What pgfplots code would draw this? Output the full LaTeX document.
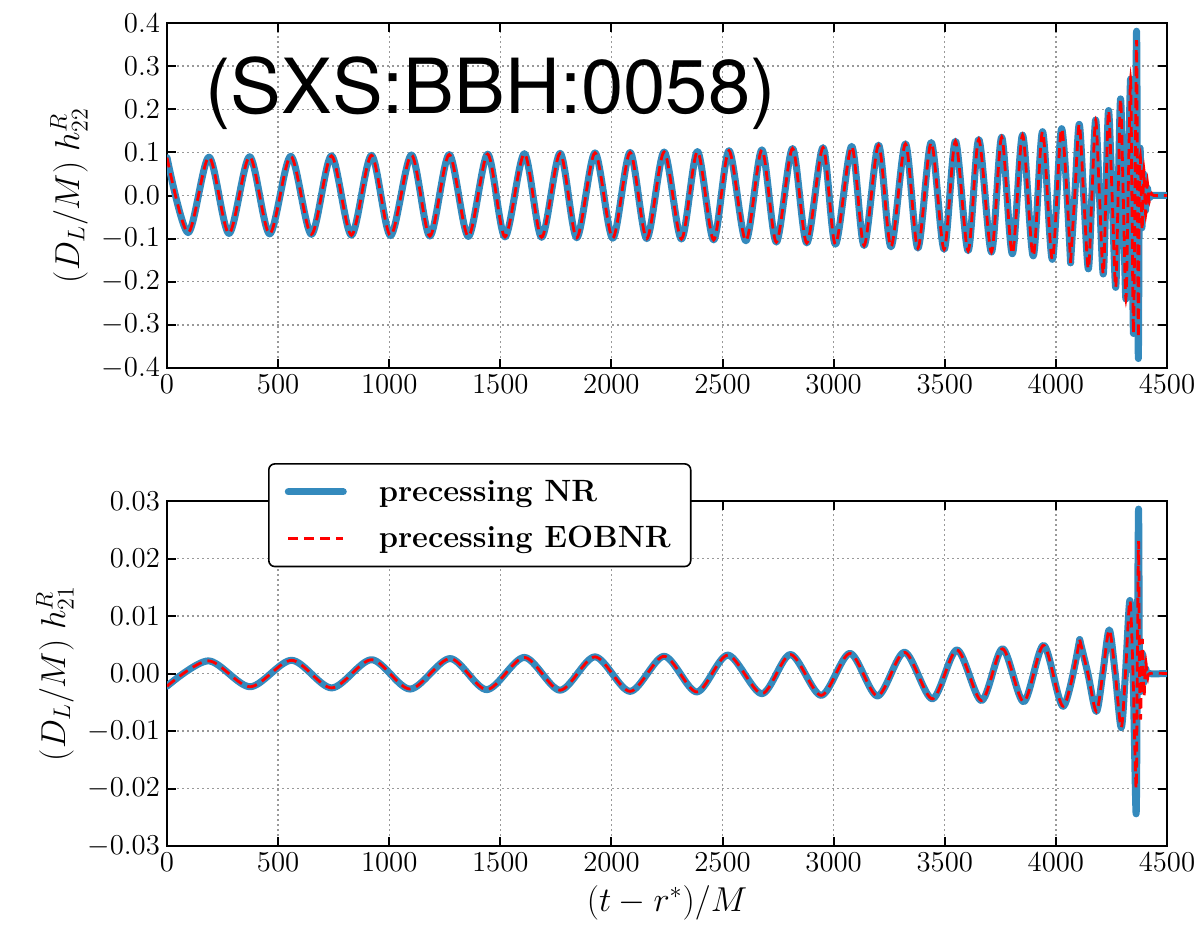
\documentclass[border=0pt]{standalone}
\usepackage{fontspec}
\newfontfamily\heros{TeX Gyre Heros}
\usepackage{pgfplots}
\pgfplotsset{compat=1.18}
\usepackage{pgfplotstable}
\definecolor{nrblue}{HTML}{348ABD}

% top panel, inspiral (extrema; NR and EOBNR coincide)
\pgfplotstableread{
x y
0 0.088
95 -0.086
189 0.089
279 -0.088
372 0.090
462 -0.089
557 0.091
650 -0.090
740 0.092
830 -0.092
920 0.093
1006 -0.093
1100 0.094
1183 -0.094
1270 0.095
1356 -0.095
1443 0.096
1521 -0.096
1608 0.097
1686 -0.097
1769 0.098
1844 -0.098
1926 0.099
2006 -0.099
2084 0.100
2159 -0.100
2237 0.101
2315 -0.101
2387 0.102
2460 -0.103
2529 0.104
2605 -0.105
2677 0.106
2742 -0.108
2815 0.109
2879 -0.110
2952 0.111
3008 -0.113
3081 0.114
3137 -0.116
3202 0.117
3258 -0.119
3323 0.120
3379 -0.122
3439 0.123
3497 -0.125
3548 0.126
3605 -0.128
3653 0.130
3710 -0.131
3756 0.135
3804 -0.135
3850 0.140
3898 -0.140
3940 0.148
3984 -0.148
4026 0.155
4066 -0.156
}\topA

% top panel, merger-ringdown, NR
\pgfplotstableread{
x y
4066 -0.156
4085 0
4105 0.165
4125 0
4146 -0.170
4162 0
4179 0.175
4196 0
4213 -0.182
4225 0
4237 0.197
4253 0
4269 -0.213
4280 0
4291 0.224
4303 0
4315 -0.240
4325 0
4336 0.270
4342 0
4349 -0.320
4356 0
4363 0.381
4367 0
4371 -0.378
4375 0
4379 0.110
4383 0
4387 -0.075
4391 0
4395 0.050
4399 0
4403 -0.035
4407 0
4412 0.017
4416 0
4421 -0.006
4432 0
4500 0
}\topNRb

% top panel, merger-ringdown, EOBNR
\pgfplotstableread{
x y
4066 -0.156
4085 0
4105 0.165
4125 0
4146 -0.170
4162 0
4179 0.175
4196 0
4213 -0.182
4225 0
4237 0.197
4253 0
4269 -0.213
4280 0
4291 0.224
4303 0
4315 -0.240
4325 0
4336 0.270
4342 0
4349 -0.320
4356 0
4363 0.360
4367 0
4371 -0.330
4375 0
4380 0.090
4384 0
4388 -0.080
4392 0
4396 0.060
4400 0
4404 -0.045
4408 0
4412 0.030
4416 0
4420 -0.015
4425 0
4430 0.005
4440 0
4500 0
}\topEOBb

% bottom panel, inspiral (extrema; NR and EOBNR coincide)
\pgfplotstableread{
x y
0 -0.0022
186 0.0022
374 -0.0023
561 0.0023
741 -0.0025
921 0.0024
1094 -0.0027
1274 0.0026
1439 -0.0028
1608 0.0028
1769 -0.0029
1926 0.0029
2084 -0.0031
2237 0.0030
2384 -0.0032
2524 0.0032
2677 -0.0035
2806 0.0033
2944 -0.0038
3073 0.0035
3197 -0.0039
3319 0.0037
3444 -0.0044
3555 0.0041
3665 -0.0047
3760 0.0043
3855 -0.0049
3945 0.0049
4033 -0.0057
4107 0.0059
}\botA

% bottom panel, merger-ringdown, NR
\pgfplotstableread{
x y
4107 0.0059
4144 0
4182 -0.0066
4211 0
4240 0.0076
4267 0
4294 -0.0094
4313 0
4333 0.0127
4347 0
4361 -0.0244
4366 0
4372 0.0286
4376 0
4381 -0.0030
4385 0
4389 0.0035
4393 0
4397 -0.0015
4401 0
4405 0.0008
4415 0
4500 0
}\botNRb

% bottom panel, merger-ringdown, EOBNR
\pgfplotstableread{
x y
4107 0.0059
4144 0
4182 -0.0066
4211 0
4240 0.0076
4267 0
4294 -0.0094
4313 0
4333 0.0127
4347 0
4361 -0.0200
4366 0
4372 0.0230
4376 0
4381 -0.0080
4385 0
4389 0.0060
4393 0
4397 -0.0040
4401 0
4405 0.0020
4409 0
4413 -0.0008
4422 0
4500 0
}\botEOBb

\pgfplotsset{
  wave/.style={
    scale only axis, width=500pt, height=172.5pt,
    xmin=0, xmax=4500, xtick={0,500,1000,1500,2000,2500,3000,3500,4000,4500},
    scaled x ticks=false, scaled y ticks=false,
    grid=major, major grid style={black!40, line width=0.7pt, dash pattern=on 0.9pt off 1.6pt},
    axis line style={line width=1pt},
    tick style={line width=1pt, black},
    major tick length=4.5pt,
    tick align=inside,
    tick label style={font=\fontsize{14.5}{17}\selectfont},
    xticklabel style={/pgf/number format/1000 sep={}},
    label style={font=\fontsize{18.5}{22}\selectfont},
  },
  nr/.style={nrblue, line width=3.5pt, smooth, line join=round, line cap=round},
  eob/.style={red, line width=1.4pt, smooth, dash pattern=on 5pt off 3pt},
}

\begin{document}
\begin{tikzpicture}
\useasboundingbox (0pt,0pt) rectangle (601pt,-464pt);
\begin{axis}[wave, at={(83.5pt,-184pt)}, anchor=south west,
  ymin=-0.4, ymax=0.4,
  ytick={-0.4,-0.3,-0.2,-0.1,0,0.1,0.2,0.3,0.4},
  yticklabel style={/pgf/number format/.cd, fixed, fixed zerofill, precision=1},
  ylabel={$(D_L/M)\; h^R_{22}$}]
\addplot[nr] table {\topA};
\addplot[nr] table {\topNRb};
\addplot[eob] table {\topA};
\addplot[eob] table {\topEOBb};
\node[anchor=base west, inner sep=0pt, font=\heros\fontsize{38}{44}\selectfont] at (axis description cs:0.038,0.739) {(SXS:BBH:0058)};
\end{axis}
\begin{axis}[wave, at={(83.5pt,-423pt)}, anchor=south west,
  ymin=-0.03, ymax=0.03,
  ytick={-0.03,-0.02,-0.01,0,0.01,0.02,0.03},
  yticklabel style={/pgf/number format/.cd, fixed, fixed zerofill, precision=2},
  ylabel={$(D_L/M)\; h^R_{21}$},
  xlabel={$(t-r^{*})/M$},
  legend cell align=left,
  legend image code/.code={\draw[#1] (0pt,0pt) -- (27.5pt,0pt);},
  legend style={at={(0.101,1.110)}, anchor=north west, draw=black, line width=0.8pt,
    rounded corners=3pt, fill=white, font=\fontsize{15.4}{18.5}\selectfont\bfseries,
    inner xsep=8pt, inner ysep=6pt, row sep=7pt,
    /tikz/every odd column/.append style={column sep=14pt}}]
\addplot[nr] table {\botA};
\addlegendentry{precessing NR}
\addplot[nr, forget plot] table {\botNRb};
\addplot[eob] table {\botA};
\addlegendentry{precessing EOBNR}
\addplot[eob, forget plot] table {\botEOBb};
\end{axis}
\end{tikzpicture}
\end{document}
